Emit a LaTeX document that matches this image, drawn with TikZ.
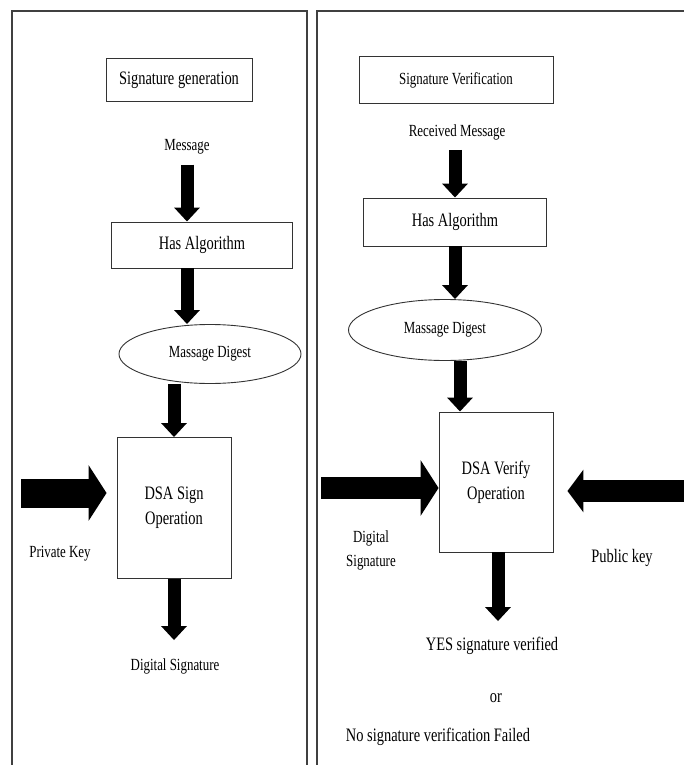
\documentclass[tikz,border=0pt]{standalone}
\usepackage{fontspec}
\setmainfont{Liberation Serif}[FakeStretch=0.76]
\usetikzlibrary{arrows.meta}
\usetikzlibrary{shapes.geometric}
\tikzstyle{panel}=[draw=black!75, line width=1.2pt]
\tikzstyle{block}=[draw=black!80, line width=0.9pt, inner sep=0pt, align=center, font=\fontsize{19}{25}\selectfont]
\tikzstyle{oval}=[block, ellipse, font=\fontsize{17}{21}\selectfont]
\tikzstyle{lbl}=[inner sep=0pt, align=center, font=\fontsize{17}{24}\selectfont]
\tikzstyle{biglbl}=[lbl, font=\fontsize{19}{24}\selectfont]
\tikzstyle{flow}=[line width=13pt, -{Triangle[length=14pt, width=25pt]}]
\tikzstyle{keyarrow}=[line width=22pt, -{Triangle[length=18pt, width=55pt]}]

\begin{document}
\begin{tikzpicture}[x=1pt, y=-1pt]
        \useasboundingbox (0,0) rectangle (684,765);
        % the two panels
        \draw[panel] (12,11) rectangle (307,780);
        \draw[panel] (317,780) -- (317,11) -- (700,11);
        % signature generation
        \node[block, minimum width=146pt, minimum height=43pt] (genL) at (179,80) {Signature generation};
        \node[lbl]                                    (msgL) at (187,147) {Message};
        \node[block, minimum width=181pt, minimum height=46pt] (hashL) at (202,245) {Has Algorithm};
        \node[oval, minimum width=182pt, minimum height=59pt]  (digL) at (210,354) {Massage Digest};
        \node[block, minimum width=114pt, minimum height=141pt] (signL) at (174,508) {DSA Sign\\Operation};
        \node[lbl]                                    (pkL) at (60,554) {Private Key};
        \node[lbl]                                    (outL) at (175,666) {Digital Signature};
        \coordinate (pkIn) at (21,493);
        % signature verification
        \node[block, minimum width=194pt, minimum height=47pt, font=\fontsize{17}{21}\selectfont] (verT) at (456,80) {Signature Verification};
        \node[lbl]                                    (recv) at (457,132) {Received Message};
        \node[block, minimum width=183pt, minimum height=48pt] (hashR) at (455,222) {Has Algorithm};
        \node[oval, minimum width=193pt, minimum height=61pt]  (digR) at (445,330) {Massage Digest};
        \node[block, minimum width=114pt, minimum height=140pt] (verR) at (496,482) {DSA Verify\\Operation};
        \node[lbl]                                    (dsig) at (371,550) {Digital\\Signature};
        \node[biglbl]                                 (pubk) at (622,558) {Public key};
        \node[biglbl]                                 (yes) at (492,646) {YES signature verified};
        \node[biglbl]                                 (orR) at (496,698) {or};
        \node[biglbl]                                 (noR) at (438,737) {No signature verification Failed};
        \coordinate (dsIn) at (321,488);
        \coordinate (pubIn) at (700,491);
        % arrows, left
        \draw[flow, shorten <=10pt] (msgL.south) -- (msgL.south |- hashL.north);
        \draw[flow] (hashL.south -| msgL) -- (msgL |- digL.north);
        \draw[flow] (digL.south -| signL) -- (signL.north);
        \draw[flow, shorten >=18pt] (signL.south) -- (signL.south |- outL.north);
        \draw[keyarrow, line width=29pt, shorten >=10pt] (pkIn) -- (pkIn -| signL.west);
        % arrows, right
        \draw[flow, shorten <=10pt] (recv.south -| hashR) -- (hashR.north);
        \draw[flow] (hashR.south) -- (hashR.south |- digR.north);
        \draw[flow] ([xshift=15pt]digR.south) -- ([xshift=15pt]digR.south |- verR.north);
        \draw[flow, shorten >=16pt] ([xshift=2pt]verR.south) -- ([xshift=2pt]verR.south |- yes.north);
        \draw[keyarrow] (dsIn) -- (dsIn -| verR.west);
        \draw[keyarrow, -{Triangle[length=16pt, width=42pt]}, shorten >=14pt] (pubIn) -- (pubIn -| verR.east);
    \end{tikzpicture}
\end{document}
